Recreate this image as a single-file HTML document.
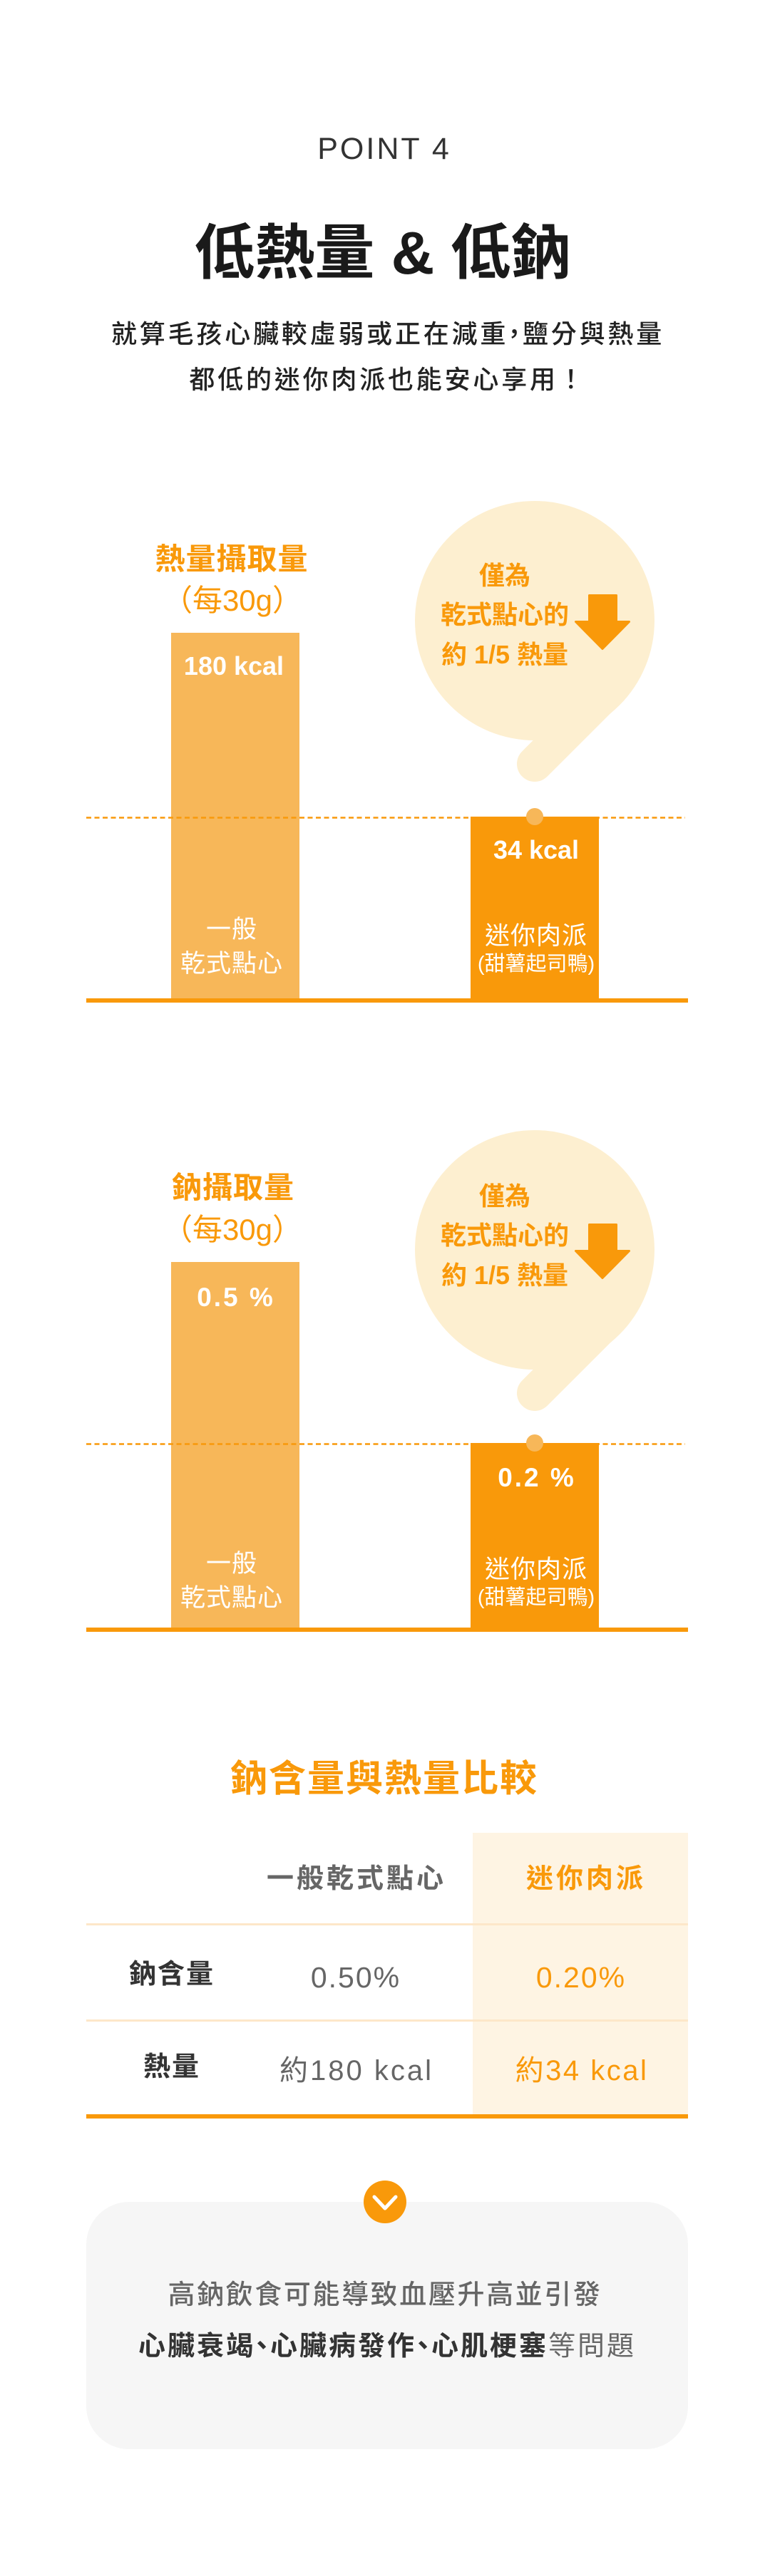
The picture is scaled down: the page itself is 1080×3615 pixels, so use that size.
<!DOCTYPE html>
<html lang="zh-Hant">
<head>
<meta charset="utf-8">
<style>
html,body{margin:0;padding:0;background:#fff;}
body{width:1080px;height:3615px;position:relative;overflow:hidden;font-family:"Liberation Sans","Noto Sans CJK TC",sans-serif;}
.t{position:absolute;white-space:nowrap;text-align:center;width:1000px;}
.o{color:#F9990A;}
.w{color:#fff;}
.b{font-weight:700;}
.p{margin-left:-10px;margin-right:-10px;}
</style>
</head>
<body>
<svg width="1080" height="3615" style="position:absolute;left:0;top:0" xmlns="http://www.w3.org/2000/svg">
  <!-- Chart 1 -->
  <circle cx="750" cy="871" r="168" fill="#FDEFD0"/>
  <line x1="750" y1="1072" x2="860" y2="962" stroke="#FDEFD0" stroke-width="50" stroke-linecap="round"/>
  <polygon points="826.5,835.5 864.5,835.5 864.5,872.5 882.5,872.5 845,910.5 807.5,872.5 826.5,872.5" fill="#F9990A" stroke="#F9990A" stroke-width="3" stroke-linejoin="round"/>
  <rect x="240" y="888" width="180" height="513" fill="#F7B759"/>
  <line x1="121" y1="1147.5" x2="961" y2="1147.5" stroke="#F9990A" stroke-width="2.5" stroke-dasharray="7 4.5"/>
  <rect x="660" y="1146" width="180" height="255" fill="#F9990A"/>
  <circle cx="750" cy="1146" r="12" fill="#F7B759"/>
  <rect x="121" y="1401" width="844" height="6" fill="#F9990A"/>

  <!-- Chart 2 -->
  <circle cx="750" cy="1754" r="168" fill="#FDEFD0"/>
  <line x1="750" y1="1955" x2="860" y2="1845" stroke="#FDEFD0" stroke-width="50" stroke-linecap="round"/>
  <polygon points="826.5,1718.5 864.5,1718.5 864.5,1755.5 882.5,1755.5 845,1793.5 807.5,1755.5 826.5,1755.5" fill="#F9990A" stroke="#F9990A" stroke-width="3" stroke-linejoin="round"/>
  <rect x="240" y="1771" width="180" height="513" fill="#F7B759"/>
  <line x1="121" y1="2026.5" x2="961" y2="2026.5" stroke="#F9990A" stroke-width="2.5" stroke-dasharray="7 4.5"/>
  <rect x="660" y="2025" width="180" height="259" fill="#F9990A"/>
  <circle cx="750" cy="2025" r="12" fill="#F7B759"/>
  <rect x="121" y="2284" width="844" height="6" fill="#F9990A"/>

  <!-- Table -->
  <rect x="663" y="2572" width="302" height="397" fill="#FEF4E3"/>
  <rect x="121" y="2699" width="844" height="3" fill="#FDE7C9"/>
  <rect x="121" y="2834" width="844" height="3" fill="#FDE7C9"/>
  <rect x="121" y="2967" width="844" height="6" fill="#F9990A"/>

  <!-- Bottom box -->
  <rect x="121" y="3090" width="844" height="347" rx="60" ry="60" fill="#F6F6F6"/>
  <circle cx="540" cy="3090" r="30" fill="#F9990A"/>
  <polyline points="525,3083 540,3099 555,3083" fill="none" stroke="#fff" stroke-width="5" stroke-linecap="round" stroke-linejoin="round"/>
</svg>

<!-- Header -->
<div class="t" style="left:36px;top:179px;font-size:43px;line-height:60px;letter-spacing:3px;color:#333;padding-left:3px;">POINT 4</div>
<div class="t b" style="left:37px;top:305px;font-size:84px;line-height:100px;color:#1a1a1a;">低熱量 &amp; 低鈉</div>
<div class="t" style="left:44px;top:444px;font-size:36px;line-height:50px;letter-spacing:3.8px;color:#222;font-weight:500;">就算毛孩心臟較虛弱或正在減重<span class="p">，</span>鹽分與熱量</div>
<div class="t" style="left:44px;top:508px;font-size:36px;line-height:50px;letter-spacing:3.8px;color:#222;font-weight:500;">都低的迷你肉派也能安心享用！</div>

<!-- Chart 1 texts -->
<div class="t o b" style="left:-175px;top:760px;font-size:42px;line-height:50px;letter-spacing:1px;">熱量攝取量</div>
<div class="t o" style="left:-174px;top:818px;font-size:42px;line-height:50px;">（每30g）</div>
<div class="t w b" style="left:-172px;top:915px;font-size:36px;line-height:40px;">180 kcal</div>
<div class="t w" style="left:-175px;top:1283px;font-size:35px;line-height:44px;letter-spacing:1px;">一般</div>
<div class="t w" style="left:-175px;top:1331px;font-size:35px;line-height:44px;letter-spacing:1px;">乾式點心</div>
<div class="t w b" style="left:252px;top:1173px;font-size:36px;line-height:40px;">34 kcal</div>
<div class="t w" style="left:252px;top:1292px;font-size:35px;line-height:44px;letter-spacing:1px;">迷你肉派</div>
<div class="t w" style="left:252px;top:1333px;font-size:29px;line-height:40px;">(甜薯起司鴨)</div>
<div class="t o b" style="left:208px;top:783px;font-size:36px;line-height:50px;">僅為</div>
<div class="t o b" style="left:208px;top:838px;font-size:36px;line-height:50px;">乾式點心的</div>
<div class="t o b" style="left:208px;top:894px;font-size:36px;line-height:50px;">約 1/5 熱量</div>

<!-- Chart 2 texts -->
<div class="t o b" style="left:-173px;top:1642px;font-size:42px;line-height:50px;letter-spacing:1px;">鈉攝取量</div>
<div class="t o" style="left:-174px;top:1701px;font-size:42px;line-height:50px;">（每30g）</div>
<div class="t w b" style="left:-169px;top:1801px;font-size:37px;line-height:40px;letter-spacing:3px;">0.5 %</div>
<div class="t w" style="left:-175px;top:2173px;font-size:35px;line-height:44px;letter-spacing:1px;">一般</div>
<div class="t w" style="left:-175px;top:2221px;font-size:35px;line-height:44px;letter-spacing:1px;">乾式點心</div>
<div class="t w b" style="left:253px;top:2054px;font-size:37px;line-height:40px;letter-spacing:3px;">0.2 %</div>
<div class="t w" style="left:252px;top:2181px;font-size:35px;line-height:44px;letter-spacing:1px;">迷你肉派</div>
<div class="t w" style="left:252px;top:2222px;font-size:29px;line-height:40px;">(甜薯起司鴨)</div>
<div class="t o b" style="left:208px;top:1654px;font-size:36px;line-height:50px;">僅為</div>
<div class="t o b" style="left:208px;top:1709px;font-size:36px;line-height:50px;">乾式點心的</div>
<div class="t o b" style="left:208px;top:1765px;font-size:36px;line-height:50px;">約 1/5 熱量</div>

<!-- Table texts -->
<div class="t o b" style="left:37px;top:2467px;font-size:52px;line-height:60px;letter-spacing:2px;padding-left:2px;">鈉含量與熱量比較</div>
<div class="t b" style="left:0px;top:2613px;font-size:38px;line-height:48px;letter-spacing:4px;color:#666;">一般乾式點心</div>
<div class="t o b" style="left:322px;top:2613px;font-size:38px;line-height:48px;letter-spacing:4px;">迷你肉派</div>
<div class="t b" style="left:-259px;top:2747px;font-size:38px;line-height:48px;letter-spacing:2px;color:#333;">鈉含量</div>
<div class="t" style="left:-1px;top:2751px;font-size:41px;line-height:48px;letter-spacing:2px;color:#666;">0.50%</div>
<div class="t o" style="left:315px;top:2751px;font-size:41px;line-height:48px;letter-spacing:2px;">0.20%</div>
<div class="t b" style="left:-259px;top:2877px;font-size:38px;line-height:48px;letter-spacing:2px;color:#333;">熱量</div>
<div class="t" style="left:0px;top:2882px;font-size:40px;line-height:48px;letter-spacing:3px;color:#666;">約180 kcal</div>
<div class="t o" style="left:316px;top:2882px;font-size:40px;line-height:48px;letter-spacing:2.5px;">約34 kcal</div>

<!-- Bottom box texts -->
<div class="t" style="left:40px;top:3197px;font-size:38px;line-height:48px;letter-spacing:2.6px;color:#666;font-weight:500;">高鈉飲食可能導致血壓升高並引發</div>
<div class="t" style="left:43px;top:3269px;font-size:38px;line-height:48px;letter-spacing:3px;color:#666;"><span class="b" style="color:#333;">心臟衰竭<span class="p">、</span>心臟病發作<span class="p">、</span>心肌梗塞</span>等問題</div>
</body>
</html>
